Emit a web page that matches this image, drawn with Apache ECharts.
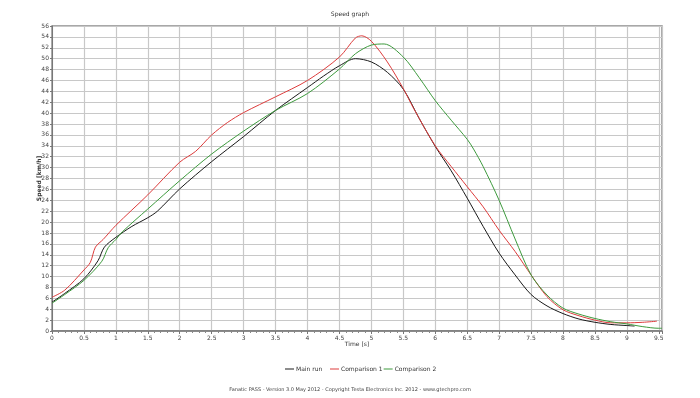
<!DOCTYPE html>
<html>
<head>
<meta charset="utf-8">
<title>Speed graph</title>
<script src="https://cdn.jsdelivr.net/npm/echarts@6/dist/echarts.min.js"></script>
<style>
  html, body { margin: 0; padding: 0; background: #fff; }
  #chart { width: 700px; height: 398px; }
</style>
</head>
<body>
<div id="chart"></div>
<script>
// speed [km/h] against time [s]
const mainTime = [0, 0.2, 0.5, 0.72, 0.82, 1.0, 1.25, 1.5, 1.65, 2.0, 2.5, 3.0, 3.5, 4.0, 4.25, 4.5, 4.75, 5.0, 5.25, 5.5, 5.75, 6.0, 6.25, 6.5, 6.75, 7.0, 7.25, 7.5, 7.75, 8.0, 8.25, 8.5, 8.75, 9.0, 9.12];
const mainSpeed = [5.3, 6.9, 9.6, 12.9, 15.4, 17.2, 19.2, 20.8, 22.0, 26.1, 31.1, 35.7, 40.5, 44.7, 46.8, 48.7, 50.0, 49.4, 47.5, 44.4, 39.0, 33.9, 29.4, 24.4, 19.2, 14.3, 10.3, 6.7, 4.6, 3.2, 2.2, 1.6, 1.2, 1.0, 0.9];

const comp1Time = [0, 0.2, 0.5, 0.6, 0.68, 0.8, 1.0, 1.5, 2.0, 2.25, 2.5, 2.75, 3.0, 3.5, 4.0, 4.5, 4.75, 4.85, 5.0, 5.25, 5.5, 5.66, 6.0, 6.25, 6.5, 6.75, 7.0, 7.25, 7.5, 7.75, 8.0, 8.25, 8.5, 8.75, 9.0, 9.25, 9.47];
const comp1Speed = [6.2, 7.5, 11.2, 12.6, 15.4, 16.8, 19.4, 25.0, 31.0, 33.0, 36.0, 38.3, 40.1, 43.0, 46.0, 50.3, 53.8, 54.2, 53.2, 49.4, 44.5, 40.9, 34.0, 30.2, 26.5, 22.8, 18.5, 14.6, 10.3, 6.3, 3.9, 2.8, 2.0, 1.5, 1.5, 1.6, 1.8];

const comp2Time = [0, 0.2, 0.5, 0.78, 0.88, 1.0, 1.1, 1.5, 2.0, 2.5, 3.0, 3.5, 4.0, 4.5, 4.75, 5.0, 5.2, 5.5, 5.75, 6.0, 6.25, 6.5, 6.6, 6.75, 7.0, 7.25, 7.5, 7.75, 8.0, 8.25, 8.5, 8.75, 9.0, 9.25, 9.5, 9.55];
const comp2Speed = [5.1, 6.7, 9.3, 12.8, 15.3, 16.8, 18.2, 22.4, 27.6, 32.5, 36.7, 40.5, 43.6, 48.1, 50.9, 52.5, 52.7, 50.3, 46.5, 42.3, 38.7, 35.2, 33.4, 30.2, 24.0, 16.9, 10.3, 6.6, 4.2, 3.1, 2.3, 1.7, 1.3, 0.8, 0.5, 0.5];

const seriesNames = ["Main run", "Comparison 1", "Comparison 2"];
const footerText = "Fanatic PASS - Version 3.0 May 2012 - Copyright Testa Electronics Inc. 2012 - www.gtechpro.com";

const pairs = (xs, ys) => xs.map((x, i) => [x, ys[i]]);
const font = "Tahoma, 'DejaVu Sans', sans-serif";

const chart = echarts.init(document.getElementById("chart"));

const lineSeries = (name, data, color) => ({
  name: name,
  type: "line",
  data: data,
  smooth: 0.3,
  symbol: "none",
  lineStyle: { color: color, width: 1 },
  itemStyle: { color: color },
});

const option = {
  animation: false,
  backgroundColor: "#fff",
  textStyle: { fontFamily: font },
  title: [
    {
      text: "Speed graph",
      left: "center",
      top: 6,
      textStyle: { fontSize: 6, fontWeight: "normal", color: "#333", fontFamily: font },
    },
    {
      text: footerText,
      left: "center",
      top: 382,
      textStyle: { fontSize: 5, fontWeight: "normal", color: "#444", fontFamily: font },
    },
  ],
  legend: [
    {
      data: [seriesNames[0]],
      left: 280,
      top: 361,
      icon: "rect",
      itemWidth: 9,
      itemHeight: 1,
      itemGap: 1,
      textStyle: { fontSize: 6, color: "#333", padding: [0, 0, 0, -3] },
    },
    {
      data: [seriesNames[1], seriesNames[2]],
      left: 325,
      top: 361,
      icon: "rect",
      itemWidth: 9,
      itemHeight: 1,
      itemGap: 1,
      textStyle: { fontSize: 6, color: "#333", padding: [0, 0, 0, -3] },
    },
  ],
  grid: {
    left: 52,
    right: 38,
    top: 26,
    bottom: 67,
    show: true,
    borderColor: "#8c8c8c",
    borderWidth: 1.5,
  },
  xAxis: {
    type: "value",
    min: 0,
    max: 9.55,
    interval: 0.5,
    name: "Time [s]",
    nameLocation: "middle",
    nameGap: 10,
    nameMoveOverlap: false,
    nameTextStyle: { fontSize: 6, color: "#333" },
    axisLine: { lineStyle: { color: "#777", width: 1.5 } },
    axisTick: { show: true, length: 3, lineStyle: { color: "#777" } },
    minorTick: { show: true, splitNumber: 5, length: 2, lineStyle: { color: "#888" } },
    axisLabel: {
      fontSize: 6,
      color: "#444",
      margin: 4,
      formatter: (v) => (Math.abs(v * 2 - Math.round(v * 2)) < 1e-6 ? String(v) : ""),
    },
    splitLine: { show: true, lineStyle: { color: "#c8c8c8", width: 1.2 } },
  },
  yAxis: {
    type: "value",
    min: 0,
    max: 56,
    interval: 2,
    name: "Speed [km/h]",
    nameLocation: "middle",
    nameGap: 10,
    nameMoveOverlap: false,
    nameTextStyle: { fontSize: 6, fontWeight: "bold", color: "#333" },
    axisLine: { show: true, lineStyle: { color: "#777", width: 1 } },
    axisTick: { show: true, length: 2, lineStyle: { color: "#777" } },
    axisLabel: { fontSize: 6, color: "#444", margin: 3 },
    splitLine: { show: true, lineStyle: { color: "#c8c8c8", width: 1.2 } },
  },
  series: [
    lineSeries(seriesNames[0], pairs(mainTime, mainSpeed), "#1a1a1a"),
    lineSeries(seriesNames[1], pairs(comp1Time, comp1Speed), "#dd3c3c"),
    lineSeries(seriesNames[2], pairs(comp2Time, comp2Speed), "#3d9a3d"),
  ],
};

chart.setOption(option);
</script>
</body>
</html>
